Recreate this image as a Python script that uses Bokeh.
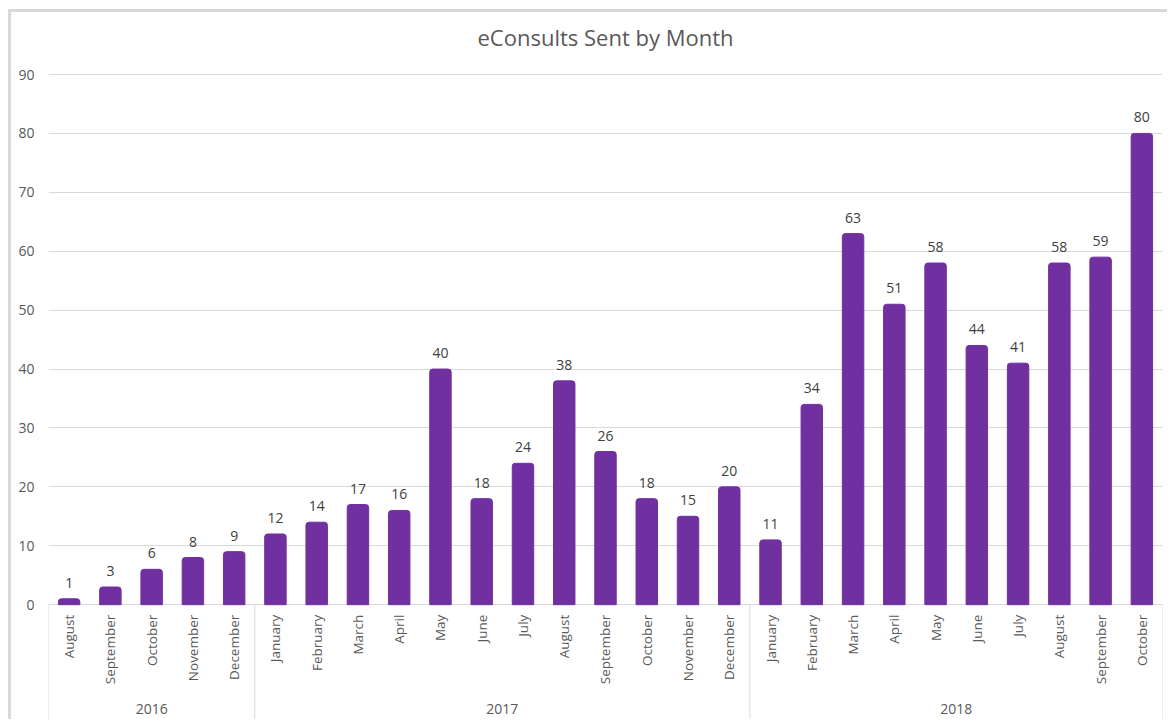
import math
from bokeh.plotting import figure
from bokeh.models import ColumnDataSource, LabelSet, Range1d, FixedTicker
from bokeh.core.properties import value
from bokeh.embed import file_html
from bokeh.resources import INLINE

# ---- data ----
years = ["2016", "2017", "2018"]
months_per_year = [5, 12, 10]
months = ["August", "September", "October", "November", "December",
          "January", "February", "March", "April", "May", "June", "July",
          "August", "September", "October", "November", "December",
          "January", "February", "March", "April", "May", "June", "July",
          "August", "September", "October"]
counts = [1, 3, 6, 8, 9,
          12, 14, 17, 16, 40, 18, 24, 38, 26, 18, 15, 20,
          11, 34, 63, 51, 58, 44, 41, 58, 59, 80]
y_ticks = [0, 10, 20, 30, 40, 50, 60, 70, 80, 90]

FONT = "Open Sans"
PURPLE = "#7030A0"
GRID = "#d9d9d9"

n = len(months)
xs = [i + 0.5 for i in range(n)]

# group boundaries and centres
bounds = [0]
for c in months_per_year:
    bounds.append(bounds[-1] + c)
centers = [(bounds[i] + bounds[i + 1]) / 2 for i in range(len(years))]

y_start, y_end = -20.0, 93.4

p = figure(width=1159, height=710, output_backend="svg", toolbar_location=None,
           x_range=Range1d(0, n), y_range=Range1d(y_start, y_end),
           x_axis_location=None,
           min_border_left=37, min_border_right=8, min_border_top=42, min_border_bottom=0,
           title="eConsults Sent by Month")
p.styles = {"margin-left": "8px", "margin-top": "9px",
            "border-left": "3px solid #d9d9d9", "border-top": "3px solid #d9d9d9"}

p.title.align = "center"
p.title.text_font = FONT
p.title.text_font_size = "22px"
p.title.text_font_style = "normal"
p.title.text_color = "#595959"
p.title.standoff = 6

p.outline_line_color = None
p.background_fill_color = "white"
p.border_fill_color = "white"

p.xgrid.visible = False
p.ygrid.ticker = FixedTicker(ticks=y_ticks)
p.ygrid.grid_line_color = GRID

ax = p.yaxis[0]
ax.ticker = FixedTicker(ticks=y_ticks)
ax.axis_line_color = None
ax.major_tick_line_color = None
ax.minor_tick_line_color = None
ax.major_tick_out = 0
ax.major_label_standoff = 14
ax.major_label_text_font = FONT
ax.major_label_text_font_size = "14px"
ax.major_label_text_color = "#595959"

src = ColumnDataSource(dict(x=xs, v=counts, lbl=[str(c) for c in counts],
                            m=months, zero=[0] * n))

p.vbar(x="x", top="v", bottom=0, width=0.52, source=src,
       fill_color=PURPLE, line_color=PURPLE, line_width=1,
       border_radius=(3, 3, 0, 0))

# separators of the category box
p.segment(x0=bounds, y0=[0] * len(bounds), x1=bounds, y1=[y_start] * len(bounds),
          line_color=GRID, line_width=1)

# value labels
p.add_layout(LabelSet(x="x", y="v", text="lbl", source=src, y_offset=11,
                      text_align="center", text_baseline="alphabetic",
                      text_font=value(FONT), text_font_size="14px",
                      text_color="#404040"))

# month labels (rotated)
p.add_layout(LabelSet(x="x", y="zero", text="m", source=src, y_offset=-10,
                      angle=math.pi / 2, text_align="right", text_baseline="middle",
                      text_font=value(FONT), text_font_size="13.5px",
                      text_color="#595959"))

# year labels
ysrc = ColumnDataSource(dict(x=centers, y=[0] * len(years), t=years))
p.add_layout(LabelSet(x="x", y="y", text="t", source=ysrc, y_offset=-104,
                      text_align="center", text_baseline="middle",
                      text_font=value(FONT), text_font_size="14px",
                      text_color="#595959"))

open("out.html", "w").write(file_html(p, INLINE))
